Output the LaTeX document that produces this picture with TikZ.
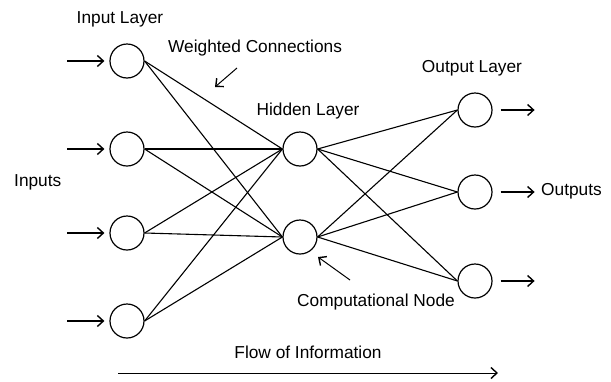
\documentclass[tikz,border=0pt]{standalone}
\usepackage{fontspec}
\setmainfont{Liberation Sans}
\usetikzlibrary{arrows.meta}
\begin{document}
\begin{tikzpicture}[x=1pt,y=-1pt,
  neuron/.style={circle,draw,line width=1.2pt,minimum size=34pt,inner sep=0pt},
  conn/.style={line width=1.1pt},
  arr/.style={line width=1.2pt,-{Straight Barb[length=6pt,width=11pt,line width=1.4pt]}},
  lbl/.style={font=\fontsize{17.3}{19}\selectfont,inner sep=0pt}]
\useasboundingbox (0,0) rectangle (611,381);
\fill[white] (0,0) rectangle (611,381);
% input layer
\node[neuron] (i1) at (127,61) {};
\node[neuron] (i2) at (127,149) {};
\node[neuron] (i3) at (127,233) {};
\node[neuron] (i4) at (127,321) {};
% hidden layer
\node[neuron] (h1) at (300,149) {};
\node[neuron] (h2) at (300,237) {};
% output layer
\node[neuron] (o1) at (475,110) {};
\node[neuron] (o2) at (475,192) {};
\node[neuron] (o3) at (475,281) {};
% connections
\foreach \i in {1,2,3,4}{\foreach \h in {1,2}{\draw[conn] (i\i.east) -- (h\h.west);}}
\foreach \h in {1,2}{\foreach \o in {1,2,3}{\draw[conn] (h\h.east) -- (o\o.west);}}
% input arrows
\foreach \i in {1,2,3,4}{
  \coordinate (s\i) at ([xshift=-42pt]i\i.west);
  \draw[arr] (s\i) -- ([xshift=-5pt]i\i.west);}
% output arrows
\foreach \o in {1,2,3}{
  \coordinate (e\o) at ([xshift=42pt]o\o.east);
  \draw[arr] ([xshift=8pt]o\o.east) -- (e\o);}
% labels
\node[lbl] (til) at (120,19) {Input Layer};
\node[lbl,anchor=west] (twc) at (168,48) {Weighted Connections};
\node[lbl] (thl) at (308,111) {Hidden Layer};
\node[lbl] (tol) at (472,68) {Output Layer};
\node[lbl,anchor=west] (tin) at (14,182) {Inputs};
\node[lbl,anchor=west] (tout) at (541,191) {Outputs};
\node[lbl] (tcn) at (376,302) {Computational Node};
\node[lbl] (tfi) at (308,352) {Flow of Information};
% pointer arrows
\coordinate (wa1) at (237,68);
\coordinate (wa2) at (215,87);
\draw[arr,line width=1pt] (wa1) -- (wa2);
\coordinate (ca1) at (350,280);
\coordinate (ca2) at (318,257);
\draw[arr,line width=1pt] (ca1) -- (ca2);
% flow arrow
\coordinate (f1) at (118,373);
\coordinate (f2) at (498,373);
\draw[arr,line width=1pt] (f1) -- (f2);
\end{tikzpicture}
\end{document}
